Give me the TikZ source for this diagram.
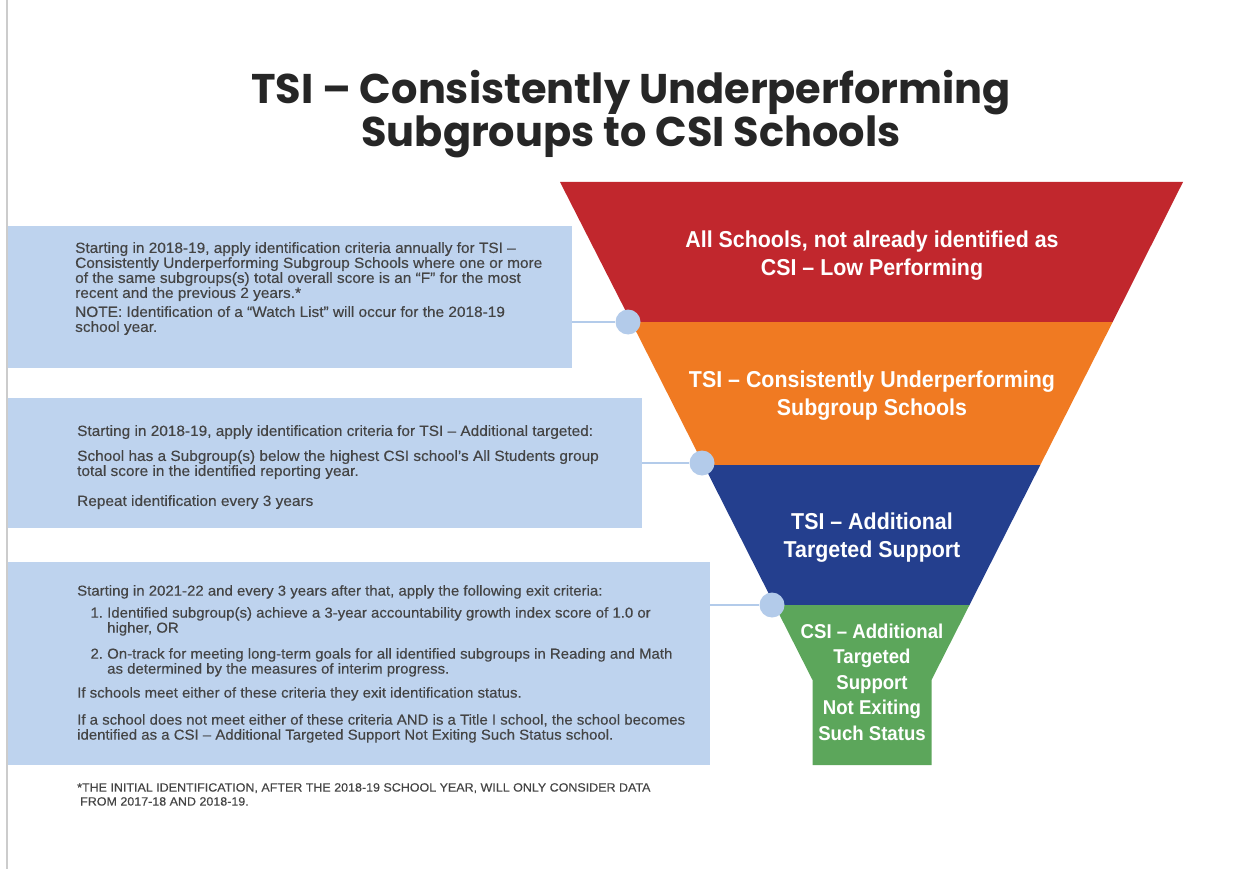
\documentclass[tikz,border=0pt]{standalone}
\usepackage{fontspec}
\setmainfont{Liberation Sans}
\newfontfamily\titlefont{Poppins}
\newfontfamily\condfont[FakeStretch=0.93]{Liberation Sans}
\newfontfamily\boxfont[FakeStretch=1.04, FakeBold=0.3]{Liberation Sans}
\usetikzlibrary{positioning}
\definecolor{funnelred}{HTML}{C1272D}
\definecolor{funnelorange}{HTML}{F07A22}
\definecolor{funnelblue}{HTML}{243F8E}
\definecolor{funnelgreen}{HTML}{5CA65B}
\definecolor{boxblue}{HTML}{BED3EE}
\definecolor{dotblue}{HTML}{B3CBEA}
\definecolor{textgray}{HTML}{444444}

\begin{document}
\begin{tikzpicture}[
    x=1pt, y=-1pt,
    infobox/.style={fill=boxblue, inner sep=0pt, anchor=north west},
    boxtext/.style={anchor=north west, align=left, inner sep=0pt, text=textgray,
      font=\boxfont\fontsize{14.8}{15}\selectfont},
    bandlabel/.style={align=center, text=white, inner sep=0pt,
      font=\condfont\bfseries\fontsize{23}{28}\selectfont},
    dot/.style={circle, fill=dotblue, minimum size=25pt, inner sep=0pt},
    link/.style={draw=dotblue, line width=2pt}
  ]
    \useasboundingbox (0,0) rectangle (1248,869);
    \draw[black!20, line width=1.2pt] (7,0) -- (7,869);

    \node[align=center, text=black!85, font=\titlefont\bfseries\fontsize{41.5}{42}\selectfont] (title) at (631,114)
      {TSI – Consistently Underperforming\\Subgroups to CSI Schools};

    % funnel
    \fill[funnelred] (560,182) -- (1183,182) -- (1112.7,322) -- (631.3,322) -- cycle;
    \fill[funnelorange] (631.3,322) -- (1112.7,322) -- (1040.3,465) -- (703.7,465) -- cycle;
    \fill[funnelblue] (703.7,465) -- (1040.3,465) -- (969.5,605) -- (774.5,605) -- cycle;
    \fill[funnelgreen] (774.5,605) -- (969.5,605) -- (931.5,680) -- (931.5,765)
      -- (812.5,765) -- (812.5,680) -- cycle;

    \node[bandlabel] (allschools) at (872,256) {All Schools, not already identified as\\CSI – Low Performing};
    \node[bandlabel] (tsicu) at (872,396) {TSI – Consistently Underperforming\\Subgroup Schools};
    \node[bandlabel] (tsiats) at (872,538) {TSI – Additional\\Targeted Support};
    \node[bandlabel, font=\condfont\bfseries\fontsize{20}{25.5}\selectfont] (csiats) at (872,682)
      {CSI – Additional\\Targeted\\Support\\Not Exiting\\Such Status};

    % info boxes
    \node[infobox, minimum width=564pt, minimum height=142pt] (box1) at (8,226) {};
    \node[infobox, minimum width=634pt, minimum height=130pt] (box2) at (8,398) {};
    \node[infobox, minimum width=702pt, minimum height=203pt] (box3) at (8,562) {};

    \node[boxtext] (txt1) at (75,242) {Starting in 2018-19, apply identification criteria annually for TSI –\\
      Consistently Underperforming Subgroup Schools where one or more\\
      of the same subgroups(s) total overall score is an “F” for the most\\
      recent and the previous 2 years.*\\[4pt]
      NOTE: Identification of a “Watch List” will occur for the 2018-19\\
      school year.};
    \node[boxtext] (txt2) at (77,425) {Starting in 2018-19, apply identification criteria for TSI – Additional targeted:\\[10pt]
      School has a Subgroup(s) below the highest CSI school’s All Students group\\
      total score in the identified reporting year.\\[15pt]
      Repeat identification every 3 years};
    \node[boxtext, font=\boxfont\fontsize{14.4}{15}\selectfont] (txt3) at (77,585)
      {Starting in 2021-22 and every 3 years after that, apply the following exit criteria:\\[7pt]
      \makebox[30pt][r]{1.\ }Identified subgroup(s) achieve a 3-year accountability growth index score of 1.0 or\\
      \hspace*{30pt}higher, OR\\[11pt]
      \makebox[30pt][r]{2.\ }On-track for meeting long-term goals for all identified subgroups in Reading and Math\\
      \hspace*{30pt}as determined by the measures of interim progress.\\[9pt]
      If schools meet either of these criteria they exit identification status.\\[12pt]
      If a school does not meet either of these criteria AND is a Title I school, the school becomes\\
      identified as a CSI – Additional Targeted Support Not Exiting Such Status school.};

    \node[boxtext, font=\boxfont\fontsize{12}{14}\selectfont] (note) at (77,783)
      {*THE INITIAL IDENTIFICATION, AFTER THE 2018-19 SCHOOL YEAR, WILL ONLY CONSIDER DATA\\
      \hspace*{3pt}FROM 2017-18 AND 2018-19.};

    % connectors
    \node[dot] (dot1) at (628,322) {};
    \node[dot] (dot2) at (702,463) {};
    \node[dot] (dot3) at (772,605) {};
    \draw[link] (dot1 -| box1.east) -- (dot1);
    \draw[link] (dot2 -| box2.east) -- (dot2);
    \draw[link] (dot3 -| box3.east) -- (dot3);
  \end{tikzpicture}
\end{document}
